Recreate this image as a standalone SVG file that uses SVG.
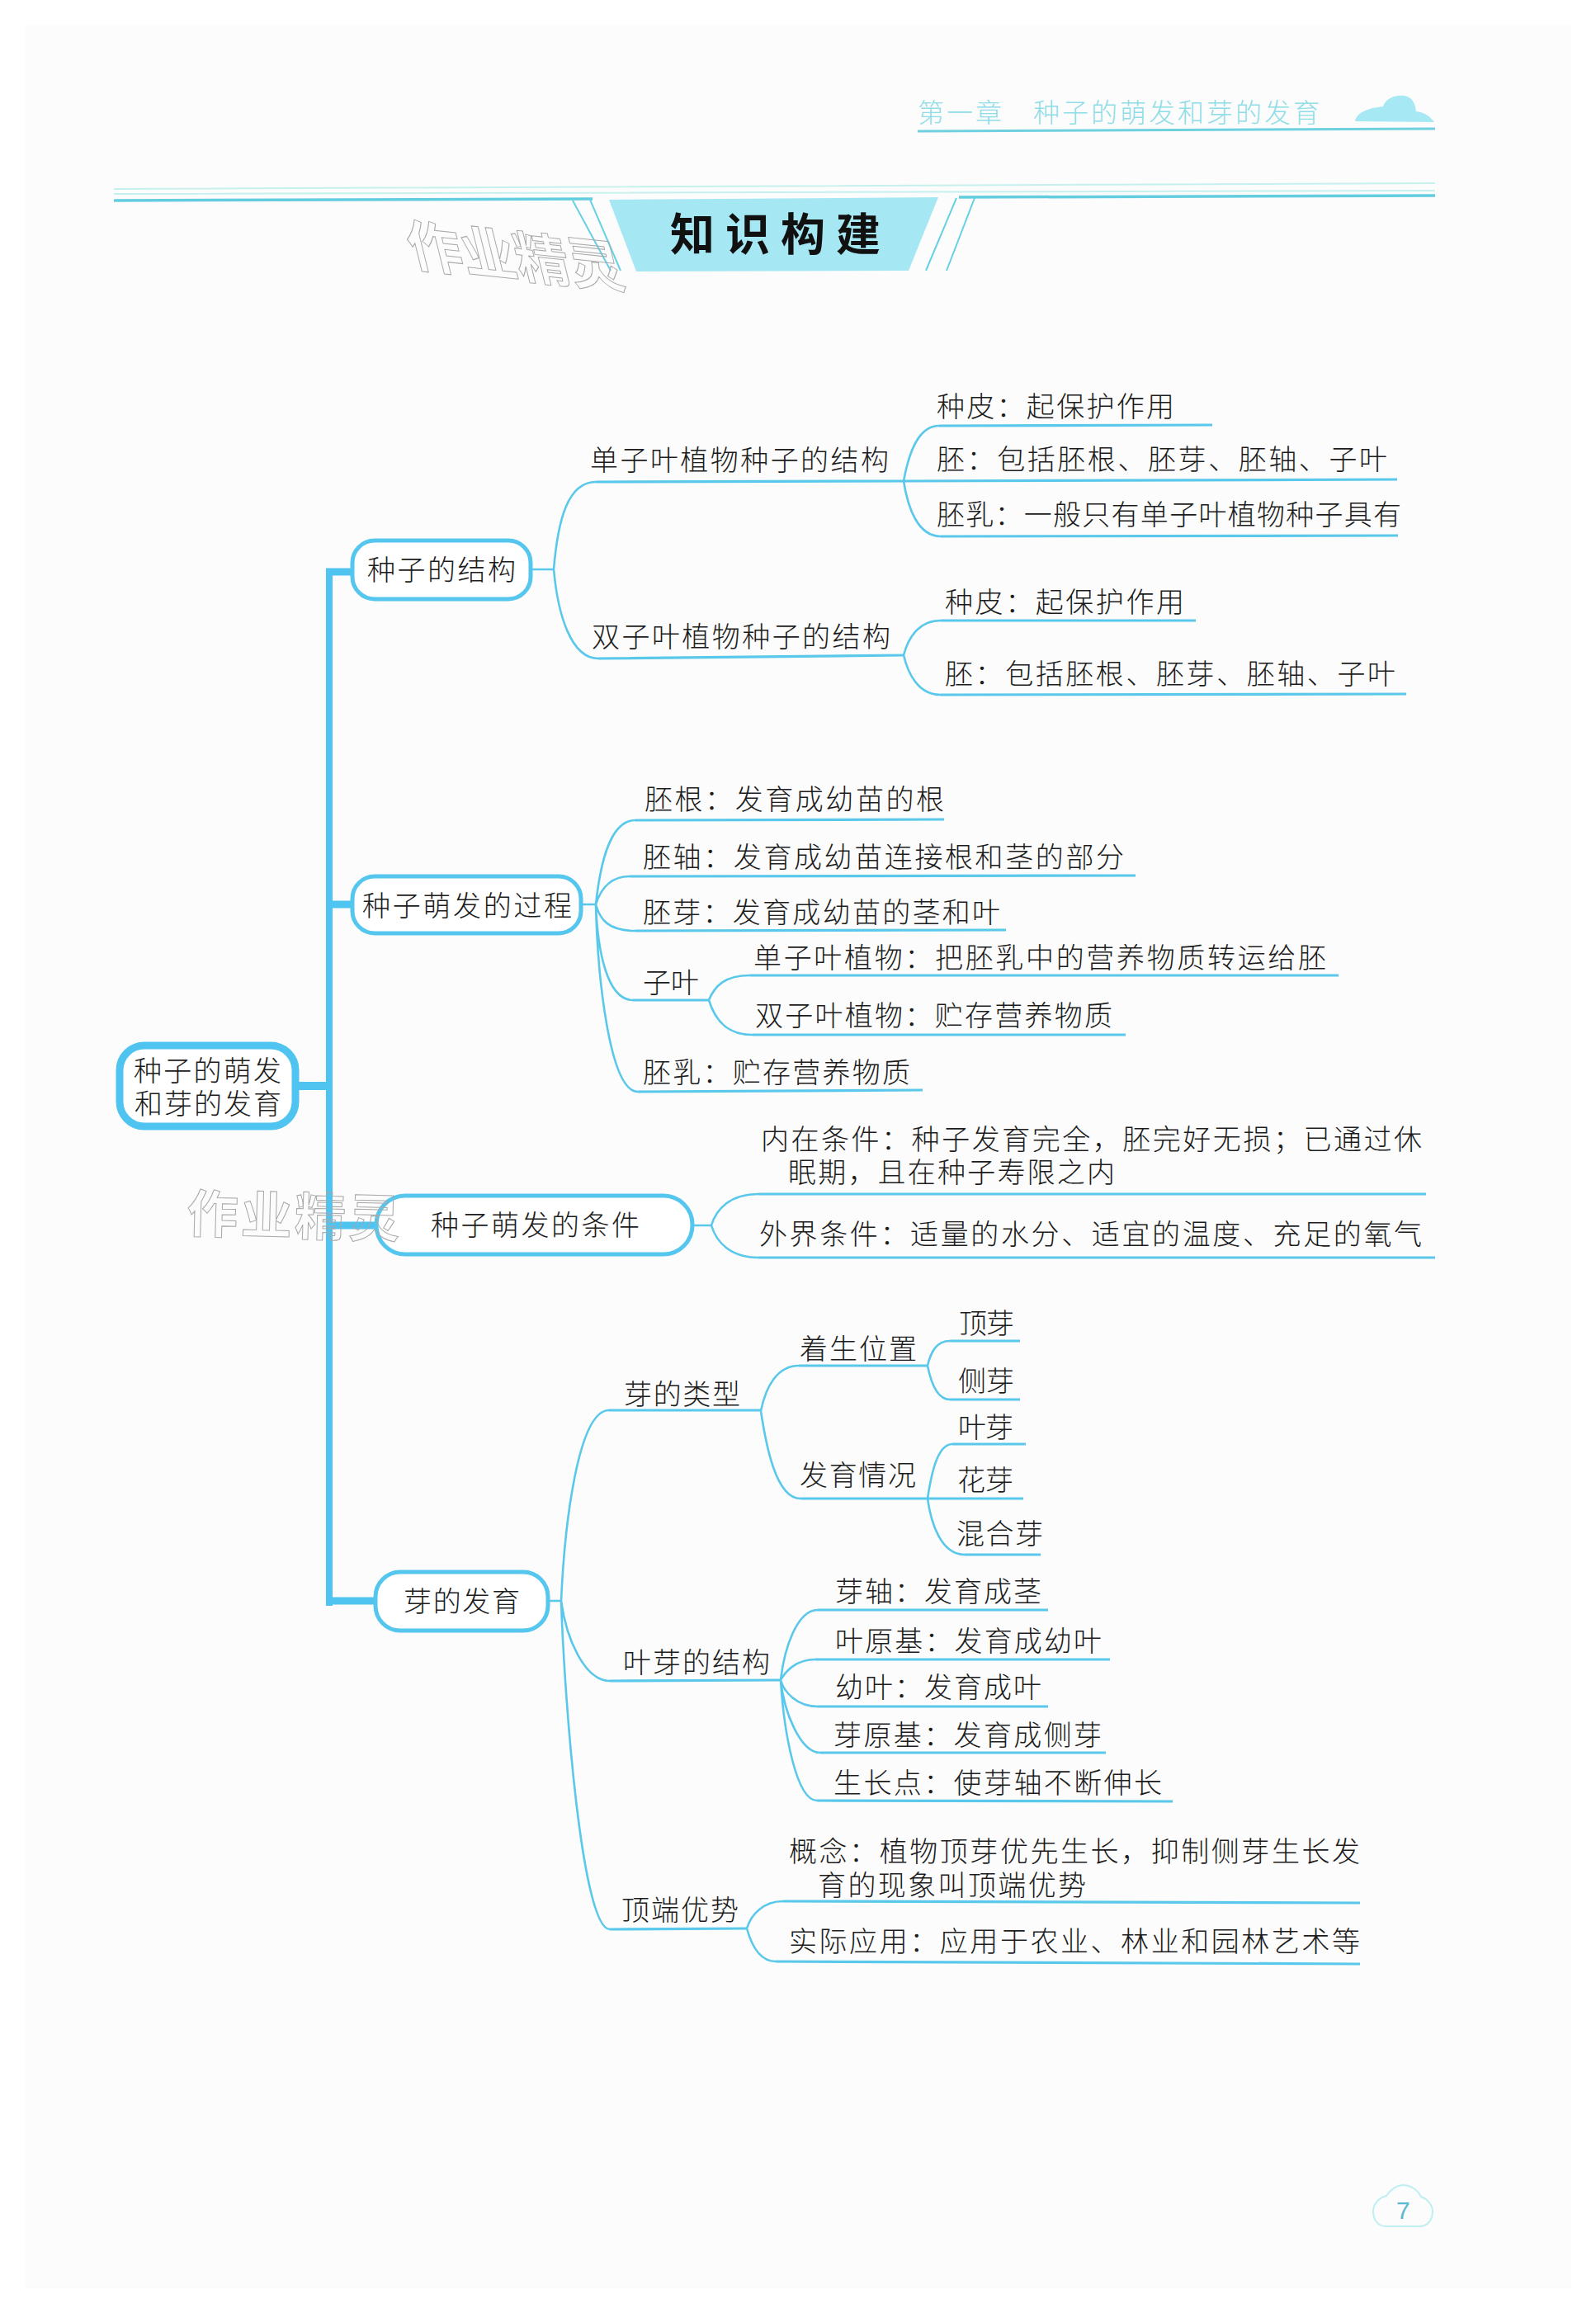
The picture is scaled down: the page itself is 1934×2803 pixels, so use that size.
<svg xmlns="http://www.w3.org/2000/svg" width="1934" height="2803" viewBox="0 0 1934 2803">
<style>
text{font-family:"Noto Sans CJK SC","Noto Sans CJK TC",sans-serif;font-size:34px;font-weight:300;fill:#1c1c1c}
.box{fill:#fff;stroke:#55c6ee;stroke-width:5}
.l{fill:none;stroke:#5ac8ea;stroke-width:3.2}
.c{fill:none;stroke:#5ac8ea;stroke-width:2.6}
.t{fill:none;stroke:#4fc4f0;stroke-linecap:butt}
.wm{font-weight:700;fill:none;stroke:#a8a8a8;stroke-width:1}
.hd{fill:#8fdde6;font-size:32px}
</style>
<rect width="1934" height="2803" fill="#fff"/>
<rect x="30" y="30" width="1874" height="2743" fill="#fcfcfc"/>

<g id="header">
<text class="hd" y="148"><tspan x="1112" letter-spacing="3">第一章</tspan><tspan x="1252" letter-spacing="3">种子的萌发和芽的发育</tspan></text>
<path d="M1112 159L1739 156" fill="none" stroke="#6fd0e0" stroke-width="3"/>
<path d="M1642 147C1644 136 1658 131 1676 129C1680 118 1692 115 1702 116C1712 118 1715 126 1716 135C1726 136 1733 141 1738 148Z" fill="#a6e9f4"/>
</g>

<g id="banner">
<path d="M138 229L1739 222M138 235L1739 231" fill="none" stroke="#c5f0ee" stroke-width="2"/>
<path d="M138 243L718 241M1162 239L1739 237" fill="none" stroke="#63cde0" stroke-width="3.5"/>
<path d="M694 243L740 328M715 242L752 328M1159 240L1122 328M1181 240L1147 328" fill="none" stroke="#66d0e4" stroke-width="2"/>
<path d="M738 242L1137 239L1101 328L771 329Z" fill="#a5e7f3"/>
<text x="812" y="304" style="font-size:54px;font-weight:700;fill:#111" textLength="255" lengthAdjust="spacing">知识构建</text>
</g>

<g id="connectors">
<path class="t" stroke-width="8" d="M399 689V1946"/>
<path class="t" stroke-width="9" d="M395 693H426M395 1096H426M403 1485H456M395 1940H455"/>
<path class="t" stroke-width="10" d="M360 1316H396"/>
<path class="c" d="M645 690H671M671 690C676 630 688 584 722 584M671 690C676 745 692 798 725 798"/>
<path class="l" d="M722 584L1095 583M725 798L1095 794"/>
<path class="c" d="M1095 583C1101 550 1112 516 1138 516M1095 583C1100 615 1112 650 1140 650M1095 794C1100 775 1112 752 1140 752M1095 794C1100 815 1112 842 1140 842"/>
<path class="l" d="M1138 516L1469 515M1095 583L1693 581M1140 650L1694 649M1140 752L1449 752M1140 842L1704 841"/>

<path class="c" d="M706 1096H722M722 1096C727 1050 738 994 770 994M722 1096C727 1080 738 1062 763 1062M722 1096C727 1115 738 1128 770 1128M722 1096C724 1150 735 1212 767 1212M722 1096C724 1180 738 1323 773 1323"/>
<path class="l" d="M770 994L1144 993M763 1062L1376 1061M770 1128L1219 1127M767 1212L859 1212M773 1323L1118 1321"/>
<path class="c" d="M859 1212C866 1195 878 1182 909 1182M859 1212C866 1235 880 1254 912 1254"/>
<path class="l" d="M909 1182L1622 1182M912 1254L1364 1254"/>

<path class="c" d="M841 1485H862M862 1485C868 1465 885 1447 919 1447M862 1485C868 1505 885 1524 919 1524"/>
<path class="l" d="M919 1447L1728 1447M919 1524L1739 1524"/>

<path class="c" d="M666 1940H680M680 1940C684 1850 700 1709 738 1709M680 1940C686 1985 708 2037 739 2037M680 1940C684 2060 705 2338 739 2338"/>
<path class="l" d="M738 1709L922 1709M739 2037L946 2036M739 2338L905 2337"/>
<path class="c" d="M922 1710C928 1680 942 1655 968 1655M922 1710C928 1750 940 1816 970 1816"/>
<path class="l" d="M968 1655L1124 1655M970 1816L1240 1816"/>
<path class="c" d="M1124 1655C1128 1638 1135 1625 1151 1625M1124 1655C1128 1675 1135 1696 1151 1696M1124 1816C1128 1790 1135 1750 1154 1750M1124 1816C1128 1845 1140 1884 1169 1884"/>
<path class="l" d="M1151 1625L1236 1625M1151 1696L1236 1696M1154 1750L1243 1750M1169 1884L1261 1884"/>
<path class="c" d="M946 2036C950 2000 965 1951 991 1951M946 2036C952 2025 965 2011 988 2011M946 2036C950 2050 965 2068 991 2068M946 2036C950 2075 970 2124 994 2124M946 2036C950 2100 965 2182 990 2182"/>
<path class="l" d="M991 1951L1270 1951M988 2011L1345 2011M991 2068L1270 2068M994 2124L1340 2124M990 2182L1421 2183"/>
<path class="c" d="M905 2337C910 2320 925 2304 949 2304M905 2337C910 2355 920 2377 940 2377"/>
<path class="l" d="M949 2304L1648 2306M940 2377L1648 2380"/>
</g>

<g id="root"><rect x="145" y="1267" width="213" height="98" rx="30" style="fill:#fff;stroke:#4fc4f0;stroke-width:9"/>
<text><tspan x="162" y="1310" textLength="179">种子的萌发</tspan><tspan x="163" y="1350" textLength="178">和芽的发育</tspan></text></g>

<g id="n-structure"><rect class="box" x="427" y="655" width="216" height="71" rx="27"/><text x="445" y="703" textLength="180">种子的结构</text></g>
<g id="n-mono"><text x="715" y="570" textLength="362">单子叶植物种子的结构</text></g>
<g id="n-di"><text x="717" y="784" textLength="362">双子叶植物种子的结构</text></g>
<g id="n-m1"><text x="1135" y="505" textLength="288">种皮&#xFF1A;起保护作用</text></g>
<g id="n-m2"><text x="1135" y="569" textLength="546">胚&#xFF1A;包括胚根、胚芽、胚轴、子叶</text></g>
<g id="n-m3"><text x="1135" y="636" textLength="563">胚乳&#xFF1A;一般只有单子叶植物种子具有</text></g>
<g id="n-d1"><text x="1145" y="742" textLength="290">种皮&#xFF1A;起保护作用</text></g>
<g id="n-d2"><text x="1145" y="829" textLength="546">胚&#xFF1A;包括胚根、胚芽、胚轴、子叶</text></g>

<g id="n-process"><rect class="box" x="427" y="1062" width="277" height="69" rx="27"/><text x="439" y="1110" textLength="254">种子萌发的过程</text></g>
<g id="n-p1"><text x="781" y="981" textLength="363">胚根&#xFF1A;发育成幼苗的根</text></g>
<g id="n-p2"><text x="779" y="1051" textLength="583">胚轴&#xFF1A;发育成幼苗连接根和茎的部分</text></g>
<g id="n-p3"><text x="779" y="1118" textLength="433">胚芽&#xFF1A;发育成幼苗的茎和叶</text></g>
<g id="n-p4"><text x="779" y="1203" textLength="68">子叶</text></g>
<g id="n-p41"><text x="913" y="1173" textLength="694">单子叶植物&#xFF1A;把胚乳中的营养物质转运给胚</text></g>
<g id="n-p42"><text x="915" y="1243" textLength="433">双子叶植物&#xFF1A;贮存营养物质</text></g>
<g id="n-p5"><text x="779" y="1312" textLength="324">胚乳&#xFF1A;贮存营养物质</text></g>

<g id="n-cond"><rect class="box" x="456" y="1449" width="383" height="71" rx="35"/><text x="522" y="1497" textLength="253">种子萌发的条件</text></g>
<g id="n-c1"><text><tspan x="922" y="1393" textLength="801">内在条件&#xFF1A;种子发育完全&#xFF0C;胚完好无损&#xFF1B;已通过休</tspan><tspan x="955" y="1433" textLength="396">眠期&#xFF0C;且在种子寿限之内</tspan></text></g>
<g id="n-c2"><text x="920" y="1508" textLength="803">外界条件&#xFF1A;适量的水分、适宜的温度、充足的氧气</text></g>

<g id="n-bud"><rect class="box" x="455" y="1905" width="209" height="71" rx="30"/><text x="489" y="1953" textLength="141">芽的发育</text></g>
<g id="n-b1"><text x="756" y="1702" textLength="141">芽的类型</text></g>
<g id="n-b11"><text x="969" y="1647" textLength="142">着生位置</text></g>
<g id="n-b111"><text x="1162" y="1616" textLength="67">顶芽</text></g>
<g id="n-b112"><text x="1161" y="1686" textLength="68">侧芽</text></g>
<g id="n-b12"><text x="969" y="1800" textLength="141">发育情况</text></g>
<g id="n-b121"><text x="1161" y="1742" textLength="67">叶芽</text></g>
<g id="n-b122"><text x="1160" y="1806" textLength="68">花芽</text></g>
<g id="n-b123"><text x="1159" y="1871" textLength="105">混合芽</text></g>
<g id="n-b2"><text x="755" y="2027" textLength="178">叶芽的结构</text></g>
<g id="n-b21"><text x="1012" y="1941" textLength="250">芽轴&#xFF1A;发育成茎</text></g>
<g id="n-b22"><text x="1012" y="2001" textLength="323">叶原基&#xFF1A;发育成幼叶</text></g>
<g id="n-b23"><text x="1012" y="2057" textLength="250">幼叶&#xFF1A;发育成叶</text></g>
<g id="n-b24"><text x="1010" y="2115" textLength="325">芽原基&#xFF1A;发育成侧芽</text></g>
<g id="n-b25"><text x="1010" y="2173" textLength="398">生长点&#xFF1A;使芽轴不断伸长</text></g>
<g id="n-b3"><text x="753" y="2327" textLength="142">顶端优势</text></g>
<g id="n-b31"><text><tspan x="956" y="2256" textLength="692">概念&#xFF1A;植物顶芽优先生长&#xFF0C;抑制侧芽生长发</tspan><tspan x="991" y="2297" textLength="325">育的现象叫顶端优势</tspan></text></g>
<g id="n-b32"><text x="956" y="2365" textLength="692">实际应用&#xFF1A;应用于农业、林业和园林艺术等</text></g>

<g id="watermarks">
<text class="wm" transform="translate(500 322) rotate(6) skewX(20)" style="font-size:66px" textLength="262">作业精灵</text>
<text class="wm" transform="translate(226 1493) rotate(1.5)" style="font-size:62px" textLength="258">作业精灵</text>
</g>

<g id="page-number">
<path d="M1680 2698C1668 2698 1664 2688 1664 2680C1664 2670 1672 2663 1680 2661C1686 2652 1694 2648 1700 2648C1710 2648 1718 2654 1722 2662C1730 2665 1736 2672 1736 2680C1736 2690 1730 2698 1720 2698Z" fill="none" stroke="#bfeff3" stroke-width="2"/>
<text x="1692" y="2689" style="font-size:30px;font-family:'Liberation Sans',sans-serif;fill:#5ab8d2">7</text>
</g>
</svg>
